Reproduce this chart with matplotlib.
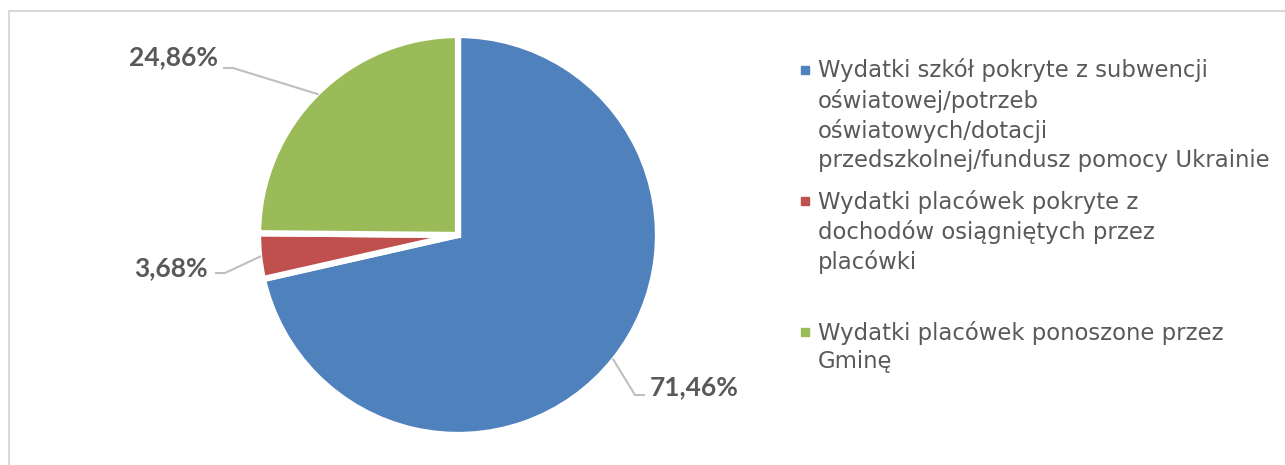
import numpy as np
import matplotlib.pyplot as plt
from matplotlib.patches import Rectangle

# shares of expenditure (percent)
labels = [
    "Wydatki szkół pokryte z subwencji\noświatowej/potrzeb\noświatowych/dotacji\nprzedszkolnej/fundusz pomocy Ukrainie",
    "Wydatki placówek pokryte z\ndochodów osiągniętych przez\nplacówki",
    "Wydatki placówek ponoszone przez\nGminę",
]
values = [71.46, 3.68, 24.86]
value_text = ["71,46%", "3,68%", "24,86%"]
colors = ["#4F81BD", "#C0504D", "#9BBB59"]

# label layout (data units of the pie axes): elbow point, text anchor, alignment
elbows = [(0.885, -0.80), (-1.165, -0.19), (-1.125, 0.835)]
text_pos = [(0.96, -0.76), (-1.25, -0.165), (-1.20, 0.89)]
text_ha = ["left", "right", "right"]

TXT = "#595959"
LEADER = "#BFBFBF"

fig = plt.figure(figsize=(12.85, 4.65), dpi=100)
fig.patches.append(Rectangle((9 / 1285, -0.1), 2.0, (465 - 11) / 465 + 0.1,
                             transform=fig.transFigure, fill=False,
                             edgecolor="#D9D9D9", linewidth=1.5))

ax = fig.add_axes([258 / 1285, 30 / 465, 400 / 1285, 400 / 465])
wedges, _ = ax.pie(values, colors=colors, startangle=90, counterclock=False,
                   wedgeprops=dict(edgecolor="white", linewidth=4.5))
ax.set_xlim(-1.0, 1.0)
ax.set_ylim(-1.0, 1.0)
ax.set_aspect("equal")

for w, el, tp, ha, txt in zip(wedges, elbows, text_pos, text_ha, value_text):
    mid = np.deg2rad((w.theta1 + w.theta2) / 2)
    start = (np.cos(mid) * 0.99, np.sin(mid) * 0.99)
    end_x = el[0] + (0.05 if ha == "left" else -0.05)
    ax.plot([start[0], el[0], end_x], [start[1], el[1], el[1]],
            color=LEADER, linewidth=1.5, clip_on=False, solid_capstyle="butt")
    ax.text(tp[0], tp[1], txt, ha=ha, va="center", fontsize=19,
            fontweight="bold", color=TXT, family="Lato", clip_on=False)

# legend drawn by hand to match the stacked entry layout
leg_x = 818 / 1285
for i, (lab, col) in enumerate(zip(labels, colors)):
    y_mid = 1 - (70 + i * 131) / 465
    fig.text(leg_x, y_mid + 0.5 * 23 / 465, lab, ha="left", va="top",
             fontsize=16.4, color=TXT, family="DejaVu Sans",
             linespacing=1.33)
    fig.patches.append(Rectangle((801 / 1285, y_mid - 4 / 465), 8 / 1285, 8 / 465,
                                 transform=fig.transFigure, color=col))

fig.savefig("out.png", dpi=100)
